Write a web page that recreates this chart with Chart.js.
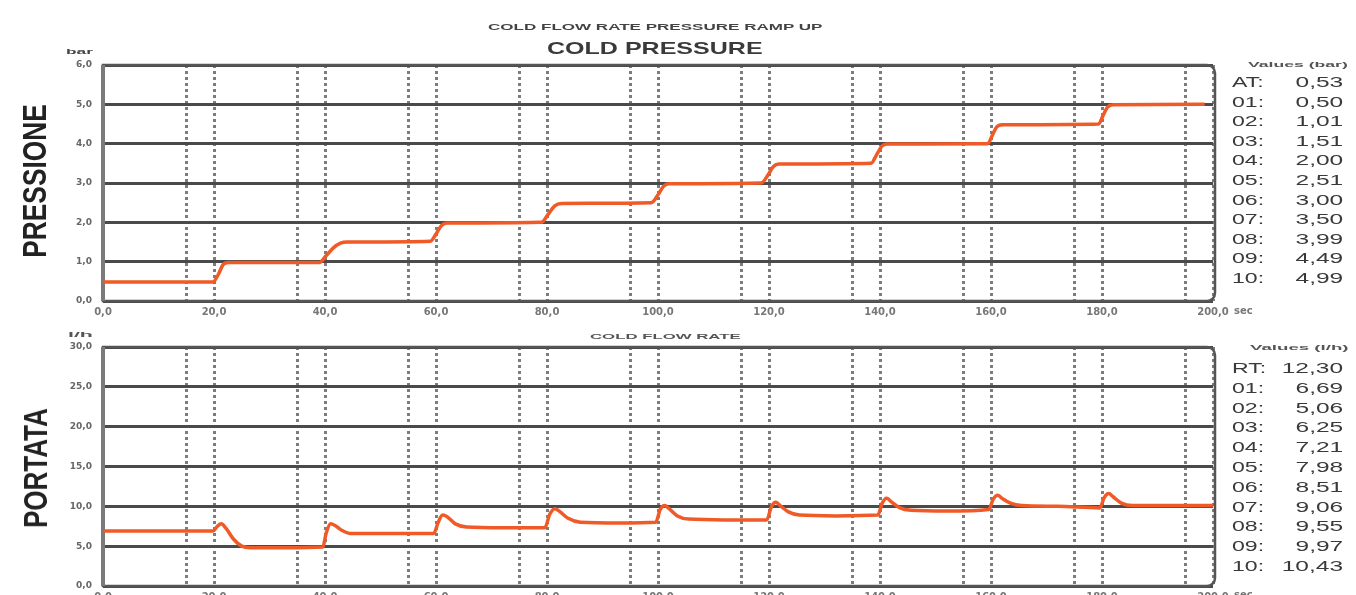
<!DOCTYPE html>
<html><head><meta charset="utf-8">
<script src="https://cdn.jsdelivr.net/npm/chart.js@4.4.1/dist/chart.umd.min.js"></script>
<style>
html,body{margin:0;padding:0;background:#fff;width:1356px;height:595px;overflow:hidden;position:relative;font-family:"Liberation Sans",Arial,sans-serif}
canvas{position:absolute;left:0}
.t{position:absolute;white-space:nowrap;line-height:1;color:#3a3a3a}
</style></head><body>
<canvas id="cp" width="1356" height="330" style="top:0"></canvas>
<canvas id="cf" width="1356" height="310" style="top:300px"></canvas>
<div id="texts"></div>
<script>
// ---- data ----
const timeTickLabels = ['0,0','20,0','40,0','60,0','80,0','100,0','120,0','140,0','160,0','180,0','200,0'];
const timeUnit = 'sec';
const markerTimes = [15,20,35,40,55,60,75,80,95,100,115,120,135,140,155,160,175,180,195,200];
const pressureTicks = ['0,0','1,0','2,0','3,0','4,0','5,0','6,0'];
const flowTicks = ['0,0','5,0','10,0','15,0','20,0','25,0','30,0'];

const pressureTime = [0,19.8,20.8,21.6,22.6,39.0,40.2,41.5,42.8,44.0,59.0,60.0,61.0,62.0,79.0,80.2,81.4,82.6,98.8,100.0,101.0,102.0,118.6,119.8,120.8,121.8,138.4,139.4,140.3,141.2,159.4,160.2,161.0,162.0,179.4,180.2,181.0,182.0,198.5];
const pressureValues = [0.48,0.48,0.68,0.92,0.98,0.98,1.15,1.35,1.47,1.5,1.52,1.7,1.92,1.98,2.0,2.2,2.42,2.48,2.5,2.7,2.92,2.98,3.0,3.2,3.42,3.48,3.5,3.72,3.93,3.99,4.0,4.2,4.42,4.48,4.5,4.72,4.93,4.99,5.0];

const flowTime = [0,19.8,20.6,21.3,22.2,23.5,25.0,26.5,33,39.6,40.2,41.0,41.8,43.0,44.5,52,59.6,60.4,61.2,62.0,63.5,65.5,72,79.6,80.5,81.4,82.2,83.8,86.0,93,99.6,100.4,101.2,102.0,103.5,105.5,112,119.6,120.4,121.2,122.0,123.5,125.5,132,139.6,140.4,141.2,142.0,143.6,145.6,152,159.6,160.4,161.2,162.0,163.5,165.5,172,179.6,180.4,181.2,182.0,183.5,185.5,192,200];
const flowValues = [6.9,6.9,7.5,7.8,7.2,5.9,5.0,4.8,4.8,4.9,6.6,7.8,7.6,7.0,6.6,6.6,6.6,8.0,8.9,8.7,7.8,7.4,7.3,7.3,9.0,9.7,9.4,8.5,8.0,7.9,8.0,9.6,10.1,9.7,8.8,8.4,8.3,8.3,9.9,10.5,10.1,9.3,8.9,8.8,8.9,10.4,11.0,10.6,9.8,9.5,9.4,9.6,10.9,11.4,11.0,10.4,10.1,10.0,9.8,11.1,11.6,11.2,10.4,10.1,10.1,10.1];

const pressureLabels = ['AT:','01:','02:','03:','04:','05:','06:','07:','08:','09:','10:'];
const pressureReadings = ['0,53','0,50','1,01','1,51','2,00','2,51','3,00','3,50','3,99','4,49','4,99'];
const flowLabels = ['RT:','01:','02:','03:','04:','05:','06:','07:','08:','09:','10:'];
const flowReadings = ['12,30','6,69','5,06','6,25','7,21','7,98','8,51','9,06','9,55','9,97','10,43'];

// ---- charts ----
const framePlugin = {
  id: 'frame',
  beforeDatasetsDraw(chart) {
    const a = chart.chartArea, c = chart.ctx;
    c.save();
    c.strokeStyle = '#555'; c.lineWidth = 2.5;
    c.beginPath();
    c.roundRect(a.left, a.top, a.right - a.left + 2, a.bottom - a.top, [0, 8, 8, 0]);
    c.stroke();
    c.strokeStyle = '#7a7a7a'; c.lineWidth = 4;
    c.beginPath(); c.moveTo(a.left, a.top); c.lineTo(a.left, a.bottom); c.stroke();
    c.restore();
  }
};

function makeChart(id, times, values, yMax, yStep, yLabels, padTop, xH) {
  return new Chart(document.getElementById(id), {
    type: 'line',
    data: { datasets: [{
      data: times.map((t, i) => ({ x: t, y: values[i] })),
      borderColor: '#ef5a26', borderWidth: 3.5, pointRadius: 0,
      cubicInterpolationMode: 'monotone', fill: false
    }]},
    options: {
      responsive: false, animation: false, events: [],
      layout: { padding: { top: padTop, right: 143, left: 0, bottom: 0 } },
      plugins: { legend: { display: false }, tooltip: { enabled: false }, title: { display: false } },
      scales: {
        x: {
          type: 'linear', min: 0, max: 200,
          afterBuildTicks: s => { s.ticks = [0, ...markerTimes].map(v => ({ value: v })); },
          afterFit: s => { s.height = xH; s.paddingLeft = 0; s.paddingRight = 0; },
          grid: { color: c => (c.tick && c.tick.value > 0) ? '#7c7c7c' : 'rgba(0,0,0,0)', lineWidth: 3, drawTicks: false },
          border: { display: false, dash: [3, 3] },
          ticks: {
            autoSkip: false, maxRotation: 0, padding: 5, color: '#777',
            font: { family: 'DejaVu Sans', size: 10, weight: 'bold' },
            callback: v => (v % 20 === 0) ? timeTickLabels[v / 20] : ''
          }
        },
        y: {
          min: 0, max: yMax,
          afterFit: s => { s.width = 103; s.paddingTop = 0; s.paddingBottom = 0; },
          grid: { color: '#4a4a4a', lineWidth: 3, drawTicks: false },
          border: { display: false },
          ticks: {
            stepSize: yStep, padding: 11, color: '#666',
            font: { family: 'DejaVu Sans', size: 9, weight: 'bold' },
            callback: (v, i) => yLabels[i]
          }
        }
      }
    },
    plugins: [framePlugin]
  });
}

makeChart('cp', pressureTime, pressureValues, 6, 1, pressureTicks, 65, 29);
makeChart('cf', flowTime, flowValues, 30, 5, flowTicks, 47, 24);

// ---- texts ----
const box = document.getElementById('texts');
function addText(txt, opt) {
  const el = document.createElement('div');
  el.className = 't';
  el.textContent = txt;
  el.style.fontSize = opt.size + 'px';
  if (opt.weight) el.style.fontWeight = opt.weight;
  if (opt.color) el.style.color = opt.color;
  if (opt.family) el.style.fontFamily = opt.family;
  box.appendChild(el);
  const w = el.offsetWidth;
  if (opt.rot) {
    el.style.left = opt.cx + 'px'; el.style.top = opt.cy + 'px';
    el.style.transform = `translate(-50%,-50%) rotate(-90deg) scaleX(${opt.len / w})`;
  } else if (opt.right !== undefined) {
    el.style.right = (1356 - opt.right) + 'px';
    el.style.top = (opt.cy - opt.size / 2) + 'px';
    el.style.transformOrigin = 'right center';
    el.style.transform = `scaleX(${opt.sx})`;
  } else {
    el.style.left = opt.left + 'px';
    el.style.top = (opt.cy - opt.size / 2) + 'px';
    el.style.transformOrigin = 'left center';
    el.style.transform = `scaleX(${opt.width ? opt.width / w : opt.sx})`;
  }
}
addText('COLD FLOW RATE PRESSURE RAMP UP', { left: 488, width: 335, cy: 27, size: 9, weight: 'bold', color: '#444' });
addText('COLD PRESSURE', { left: 547, width: 215, cy: 48, size: 17, weight: '600', color: '#3a3a3a' });
addText('COLD FLOW RATE', { left: 590, width: 151, cy: 337, size: 8, weight: 'bold', color: '#555' });
addText('bar', { left: 66, width: 26, cy: 52, size: 8, weight: 'bold', color: '#444' });
addText('l/h', { left: 68, width: 24, cy: 335, size: 8, weight: 'bold', color: '#555' });
addText(timeUnit, { left: 1234, sx: 1, cy: 311, size: 10, weight: 'bold', color: '#777', family: 'DejaVu Sans' });
addText(timeUnit, { left: 1234, sx: 1, cy: 595, size: 10, weight: 'bold', color: '#777', family: 'DejaVu Sans' });
addText('PRESSIONE', { rot: true, cx: 34, cy: 181, len: 153, size: 34, weight: 'bold', color: '#222' });
addText('PORTATA', { rot: true, cx: 35, cy: 468, len: 120, size: 34, weight: 'bold', color: '#222' });
addText('Values (bar)', { left: 1248, width: 99, cy: 65, size: 8, weight: 'bold', color: '#555' });
addText('Values (l/h)', { left: 1250, width: 98, cy: 348, size: 8, weight: 'bold', color: '#555' });
pressureLabels.forEach((l, i) => {
  const cy = 82 + i * 19.6;
  addText(l, { left: 1232, sx: 1.65, cy, size: 14, color: '#3a3a3a' });
  addText(pressureReadings[i], { right: 1343, sx: 1.75, cy, size: 14, color: '#3a3a3a' });
});
flowLabels.forEach((l, i) => {
  const cy = 368 + i * 19.8;
  addText(l, { left: 1232, sx: 1.65, cy, size: 14, color: '#3a3a3a' });
  addText(flowReadings[i], { right: 1343, sx: 1.75, cy, size: 14, color: '#3a3a3a' });
});
</script>
</body></html>
